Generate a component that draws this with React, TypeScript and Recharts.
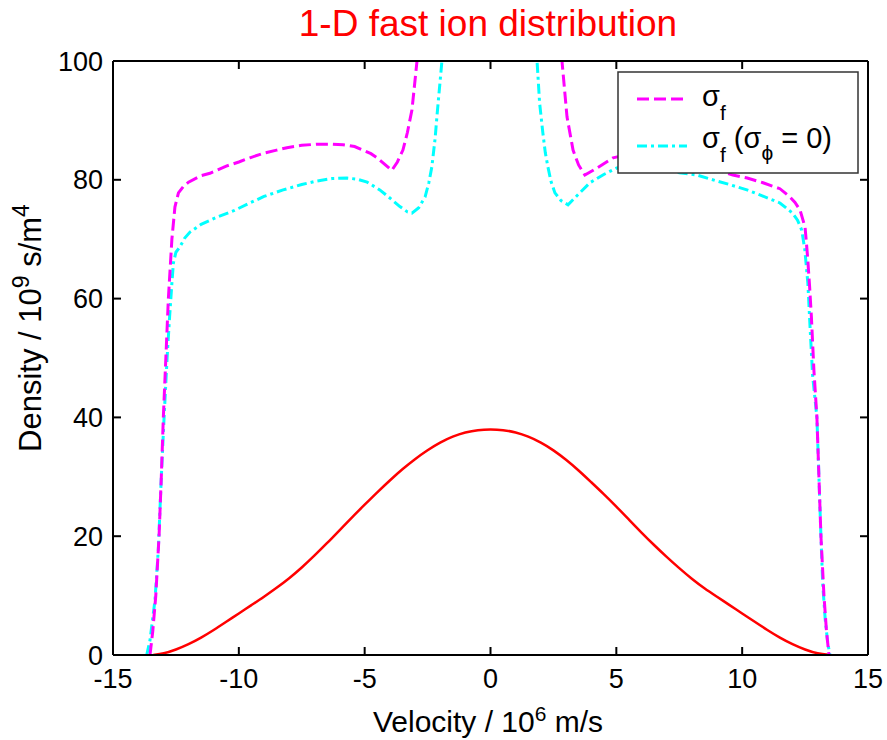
import React from 'react';
import { LineChart, Line, XAxis, YAxis } from 'recharts';

const FONT = '"Liberation Sans", Arial, Helvetica, sans-serif';

const xTicks = [-15, -10, -5, 0, 5, 10, 15];
const yTicks = [0, 20, 40, 60, 80, 100];

// sigma_f (magenta dashed): [velocity, density]
const sigmaF: [number, number][] = [
  [-13.53, 0], [-13.42, 4], [-13.3, 10], [-13.17, 20], [-13.08, 30], [-13.0, 40], [-12.9, 50],
  [-12.8, 60], [-12.73, 65], [-12.66, 70], [-12.54, 75.4], [-12.4, 77.8], [-12.2, 78.9], [-12.0, 79.6],
  [-11.5, 80.7], [-11.15, 81.1], [-10.5, 82.3], [-10, 83.0], [-9.56, 83.7], [-9, 84.5], [-8.5, 85.0],
  [-8.09, 85.4], [-7.5, 85.8], [-6.9, 86.0], [-6.3, 86.0], [-5.86, 85.9], [-5.4, 85.6], [-5.07, 85.0],
  [-4.75, 84.4], [-4.5, 83.7], [-4.2, 82.6], [-3.92, 81.6], [-3.7, 83.0], [-3.48, 85.0], [-3.3, 88.0],
  [-3.12, 91.8], [-2.92, 100], [-2.7, 112], [-2.4, 135],
  [2.4, 135], [2.62, 112], [2.84, 100], [3.04, 90.6], [3.28, 85.0], [3.5, 82.5], [3.75, 80.8],
  [4.2, 81.9], [4.87, 83.7], [5.5, 84.3], [6.5, 84.3], [7.5, 83.5], [8.5, 82.3], [9.0, 81.7],
  [9.63, 80.8], [10.2, 80.3], [10.83, 79.5], [11.5, 78.5], [11.9, 77.1], [12.1, 76.2], [12.3, 74.9],
  [12.5, 72.0], [12.6, 67.0], [12.68, 62], [12.75, 57], [12.85, 48], [12.97, 40], [13.05, 30],
  [13.13, 20], [13.25, 10], [13.35, 4], [13.45, 0],
];

// sigma_f (sigma_phi = 0) (cyan dash-dot)
const sigmaFNoPhi: [number, number][] = [
  [-13.66, 0], [-13.53, 2.5], [-13.33, 9.3], [-13.2, 17.7], [-13.08, 30], [-12.97, 40], [-12.85, 50],
  [-12.75, 57], [-12.66, 62.6], [-12.6, 66], [-12.5, 67.8], [-12.34, 68.7], [-12.15, 70.2],
  [-11.94, 71.2], [-11.5, 72.5], [-10.87, 73.7], [-10.2, 74.8], [-9.56, 76.1], [-9, 77.2],
  [-8.24, 78.3], [-7.5, 79.2], [-6.9, 79.8], [-6.3, 80.2], [-5.7, 80.3], [-5.3, 80.1], [-4.9, 79.6],
  [-4.4, 78.3], [-3.99, 76.9], [-3.6, 75.5], [-3.3, 74.6], [-3.12, 74.4], [-2.85, 75.3], [-2.6, 77.1],
  [-2.45, 79.5], [-2.33, 82.2], [-2.2, 87], [-2.13, 90.6], [-1.93, 100], [-1.75, 112], [-1.5, 135],
  [1.45, 135], [1.7, 112], [1.85, 100], [1.95, 93], [2.08, 87.9], [2.18, 84.5], [2.28, 82.2],
  [2.4, 79.8], [2.56, 77.8], [2.8, 76.5], [3.08, 75.8], [3.5, 77.6], [3.95, 79.5], [4.5, 80.9],
  [5.02, 82.0], [5.5, 82.3], [6.0, 82.3], [6.5, 82.0], [7.0, 81.6], [7.5, 81.2], [8.2, 80.8],
  [9.0, 79.8], [9.5, 79.2], [10.19, 78.3], [10.8, 77.3], [11.5, 76.1], [12.0, 74.4], [12.2, 73.2],
  [12.37, 71.5], [12.49, 68.2], [12.61, 62.6], [12.7, 55], [12.8, 47], [12.97, 40], [13.05, 30],
  [13.13, 20], [13.2, 12], [13.3, 6], [13.4, 2], [13.49, 0],
];

// 1-D fast ion distribution (red solid)
const distribution: [number, number][] = [
  [-13.4, 0], [-13, 0.2], [-12.5, 0.9], [-12, 1.8], [-11.5, 2.9], [-11, 4.2], [-10.5, 5.6],
  [-10, 7.0], [-9.5, 8.4], [-9, 9.8], [-8.5, 11.3], [-8, 12.9], [-7.5, 14.7], [-7, 16.7],
  [-6.5, 18.8], [-6, 21.0], [-5.5, 23.2], [-5, 25.3], [-4.5, 27.4], [-4, 29.4], [-3.5, 31.3],
  [-3, 33.0], [-2.5, 34.5], [-2, 35.8], [-1.5, 36.8], [-1, 37.5], [-0.5, 37.9], [0, 38.0],
  [0.5, 37.9], [1, 37.5], [1.5, 36.8], [2, 35.8], [2.5, 34.5], [3, 32.9], [3.5, 31.1], [4, 29.1],
  [4.5, 27.1], [5, 25.0], [5.5, 22.8], [6, 20.6], [6.5, 18.5], [7, 16.5], [7.5, 14.6], [8, 12.8],
  [8.5, 11.2], [9, 9.8], [9.5, 8.4], [10, 7.0], [10.5, 5.6], [11, 4.2], [11.5, 2.9], [12, 1.8],
  [12.5, 0.9], [13, 0.2], [13.5, 0],
];

const toRows = (arr: [number, number][]) => arr.map(([x, y]) => ({ x, y }));

const TICK_LEN = 8;

const BottomTick = (props: any) => {
  const { x, y, payload } = props;
  const v = payload.value;
  const inner = v > -15 && v < 15;
  return (
    <g>
      {inner && <line x1={x} y1={y} x2={x} y2={y - TICK_LEN} stroke="#000" strokeWidth={2} />}
      <text x={x} y={y + 33} textAnchor="middle" fontSize={27} fontFamily={FONT} fill="#000">
        {v}
      </text>
    </g>
  );
};

const TopTick = (props: any) => {
  const { x, y, payload } = props;
  const v = payload.value;
  const inner = v > -15 && v < 15;
  return <g>{inner && <line x1={x} y1={y} x2={x} y2={y + TICK_LEN} stroke="#000" strokeWidth={2} />}</g>;
};

const LeftTick = (props: any) => {
  const { x, y, payload } = props;
  const v = payload.value;
  const inner = v > 0 && v < 100;
  return (
    <g>
      {inner && <line x1={x} y1={y} x2={x + TICK_LEN} y2={y} stroke="#000" strokeWidth={2} />}
      <text x={x - 10} y={y + 9.5} textAnchor="end" fontSize={27} fontFamily={FONT} fill="#000">
        {v}
      </text>
    </g>
  );
};

const RightTick = (props: any) => {
  const { x, y, payload } = props;
  const v = payload.value;
  const inner = v > 0 && v < 100;
  return <g>{inner && <line x1={x} y1={y} x2={x - TICK_LEN} y2={y} stroke="#000" strokeWidth={2} />}</g>;
};

const axisLine = { stroke: '#000', strokeWidth: 2 };

export default function App() {
  return (
    <div style={{ position: 'absolute', left: 0, top: 0, width: 887, height: 740, background: '#fff' }}>
      <LineChart width={887} height={740} margin={{ top: 60, right: 18, bottom: 45, left: 53 }}>
        <XAxis
          type="number"
          dataKey="x"
          domain={[-15, 15]}
          ticks={xTicks}
          allowDataOverflow
          height={40}
          tickSize={0}
          tickMargin={0}
          tickLine={false}
          axisLine={axisLine}
          tick={(p: any) => <BottomTick {...p} />}
          interval={0}
        />
        <XAxis
          xAxisId="top"
          orientation="top"
          type="number"
          dataKey="x"
          domain={[-15, 15]}
          ticks={xTicks}
          allowDataOverflow
          height={1}
          tickSize={0}
          tickMargin={0}
          tickLine={false}
          axisLine={axisLine}
          tick={(p: any) => <TopTick {...p} />}
          interval={0}
        />
        <YAxis
          type="number"
          domain={[0, 100]}
          ticks={yTicks}
          allowDataOverflow
          width={60}
          tickSize={0}
          tickMargin={0}
          tickLine={false}
          axisLine={axisLine}
          tick={(p: any) => <LeftTick {...p} />}
          interval={0}
        />
        <YAxis
          yAxisId="right"
          orientation="right"
          type="number"
          domain={[0, 100]}
          ticks={yTicks}
          allowDataOverflow
          width={1}
          tickSize={0}
          tickMargin={0}
          tickLine={false}
          axisLine={axisLine}
          tick={(p: any) => <RightTick {...p} />}
          interval={0}
        />
        <Line
          data={toRows(distribution)}
          dataKey="y"
          type="basis"
          stroke="#ff0000"
          strokeWidth={2.5}
          dot={false}
          isAnimationActive={false}
        />
        <Line
          data={toRows(sigmaFNoPhi)}
          dataKey="y"
          type="linear"
          stroke="#00ffff"
          strokeWidth={3}
          strokeDasharray="10 4 3 4"
          dot={false}
          isAnimationActive={false}
        />
        <Line
          data={toRows(sigmaF)}
          dataKey="y"
          type="linear"
          stroke="#ff00ff"
          strokeWidth={3}
          strokeDasharray="12 5"
          dot={false}
          isAnimationActive={false}
        />
      </LineChart>
      <svg
        width={887}
        height={740}
        style={{ position: 'absolute', left: 0, top: 0, pointerEvents: 'none' }}
        fontFamily={FONT}
      >
        <text x={488} y={36} textAnchor="middle" fontSize={37} fill="#ff0000">
          1-D fast ion distribution
        </text>
        <text x={488} y={732} textAnchor="middle" fontSize={30} fill="#000">
          Velocity / 10<tspan dy={-11} fontSize={21}>6</tspan>
          <tspan dy={11}> m/s</tspan>
        </text>
        <text x={41} y={328} textAnchor="middle" fontSize={31} fill="#000" transform="rotate(-90 41 328)">
          Density / 10<tspan dy={-12} fontSize={23}>9</tspan>
          <tspan dy={12}> s/m</tspan>
          <tspan dy={-12} fontSize={23}>4</tspan>
        </text>
        <g>
          <rect x={618} y={72} width={240} height={101} fill="#fff" stroke="#333" strokeWidth={1.5} />
          <line x1={637} y1={99} x2={687} y2={99} stroke="#ff00ff" strokeWidth={3} strokeDasharray="12 5" />
          <line x1={637} y1={146} x2={687} y2={146} stroke="#00ffff" strokeWidth={3} strokeDasharray="10 4 3 4" />
          <text x={702} y={106} fontSize={29} fill="#000">
            σ<tspan dy={14} fontSize={21}>f</tspan>
          </text>
          <text x={702} y={148} fontSize={29} fill="#000">
            σ<tspan dy={14} fontSize={21}>f</tspan>
            <tspan dy={-14}> (σ</tspan>
            <tspan dy={12} fontSize={21}>ϕ</tspan>
            <tspan dy={-12}> = 0)</tspan>
          </text>
        </g>
      </svg>
    </div>
  );
}
